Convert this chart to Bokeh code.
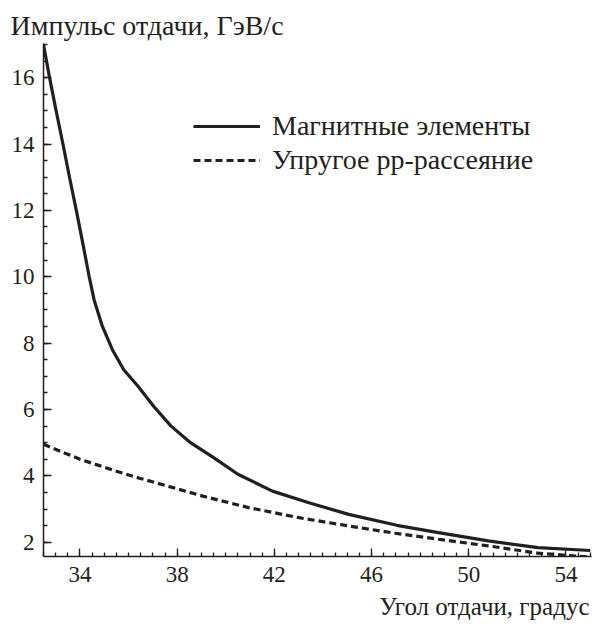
from bokeh.plotting import figure
from bokeh.models import Legend, LegendItem, Range1d, SingleIntervalTicker, FixedTicker, Title
from bokeh.embed import file_html
from bokeh.resources import INLINE

# Data
angle_mag = [32.5, 32.75, 33.02, 33.3, 33.57, 33.85, 34.12, 34.38, 34.58, 34.92,
             35.33, 35.8, 36.39, 37.03, 37.75, 38.55, 39.5, 40.5, 41.92, 43.42,
             45.06, 47.04, 48.75, 50.8, 52.85, 55.0]
mom_mag = [17.0, 16.0, 15.0, 14.0, 13.0, 12.0, 11.0, 10.0, 9.31, 8.51,
           7.81, 7.2, 6.7, 6.1, 5.5, 5.0, 4.55, 4.05, 3.54, 3.19,
           2.84, 2.51, 2.29, 2.04, 1.84, 1.75]
angle_pp = [32.5, 34.0, 35.5, 36.45, 39.05, 40.96, 43.01, 45.06, 46.98,
            48.75, 50.8, 52.85, 55.0]
mom_pp = [4.95, 4.5, 4.14, 3.93, 3.39, 3.04, 2.74, 2.49, 2.27,
          2.09, 1.89, 1.67, 1.55]

x_major = [34, 38, 42, 46, 50, 54]
series_names = ["Магнитные элементы", "Упругое pp-рассеяние"]
x_title = "Угол отдачи, градус"
y_title = "Импульс отдачи, ГэВ/c"

INK = "#231f20"
FONT = "Liberation Serif"

p = figure(width=592, height=626, output_backend="svg", toolbar_location=None,
           x_range=Range1d(32.5, 55.05), y_range=Range1d(1.57, 17.03),
           min_border_left=43, min_border_right=1, min_border_top=43,
           min_border_bottom=69)
p.outline_line_color = None
p.grid.visible = False
p.background_fill_color = "white"
p.border_fill_color = "white"

r1 = p.line(angle_mag, mom_mag, line_color=INK, line_width=3.2)
r2 = p.line(angle_pp, mom_pp, line_color=INK, line_width=3.2, line_dash="7 4")

x_minor = [32.5 + 0.5 * i for i in range(46)]
p.xaxis.ticker = FixedTicker(ticks=x_major, minor_ticks=x_minor)
p.yaxis.ticker = SingleIntervalTicker(interval=2, num_minor_ticks=4)
for ax in (p.xaxis[0], p.yaxis[0]):
    ax.axis_line_color = INK
    ax.axis_line_width = 1.5
    ax.major_tick_line_color = INK
    ax.minor_tick_line_color = INK
    ax.major_tick_line_width = 1.3
    ax.minor_tick_line_width = 1.3
    ax.major_tick_in = 8
    ax.major_tick_out = 0
    ax.minor_tick_in = 4
    ax.minor_tick_out = 0
    ax.major_label_text_font = FONT
    ax.major_label_text_font_size = "23px"
    ax.major_label_text_color = INK
p.xaxis.major_label_standoff = 10
p.yaxis.major_label_standoff = 9

p.title = Title(text=y_title, align="left", offset=-33, standoff=6,
                text_font=FONT, text_font_size="28px", text_font_style="normal",
                text_color=INK)
p.add_layout(Title(text=x_title, align="right", offset=2, standoff=13,
                   text_font=FONT, text_font_size="25px", text_font_style="normal",
                   text_color=INK), "below")

legend = Legend(items=[LegendItem(label=series_names[0], renderers=[r1]),
                       LegendItem(label=series_names[1], renderers=[r2])],
                location=(150, 380), orientation="vertical",
                glyph_width=67, glyph_height=24, label_height=24,
                label_standoff=12, spacing=2, padding=0, margin=0,
                border_line_color=None, background_fill_alpha=0,
                label_text_font=FONT, label_text_font_size="28px",
                label_text_color=INK)
p.add_layout(legend)

open("out.html", "w").write(file_html(p, INLINE))
